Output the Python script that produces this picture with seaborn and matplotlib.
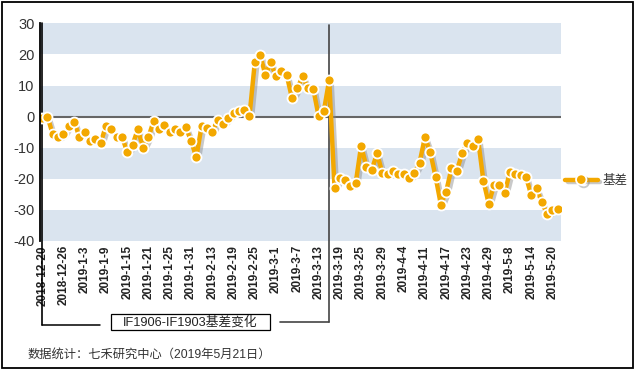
import matplotlib
matplotlib.use("Agg")
import matplotlib.pyplot as plt
import matplotlib.patheffects as pe
from matplotlib.lines import Line2D
from matplotlib.patches import Rectangle
import numpy as np
import pandas as pd
import seaborn as sns

# ---------------- data ----------------
dates = [
    "2018-12-20", "2018-12-21", "2018-12-24", "2018-12-25", "2018-12-26", "2018-12-27", "2018-12-28",
    "2019-1-2", "2019-1-3", "2019-1-4", "2019-1-7", "2019-1-8", "2019-1-9", "2019-1-10", "2019-1-11",
    "2019-1-14", "2019-1-15", "2019-1-16", "2019-1-17", "2019-1-18", "2019-1-21", "2019-1-22",
    "2019-1-23", "2019-1-24", "2019-1-25", "2019-1-28", "2019-1-29", "2019-1-30", "2019-1-31",
    "2019-2-1", "2019-2-11", "2019-2-12", "2019-2-13", "2019-2-14", "2019-2-15", "2019-2-18",
    "2019-2-19", "2019-2-20", "2019-2-21", "2019-2-22", "2019-2-25", "2019-2-26", "2019-2-27",
    "2019-2-28", "2019-3-1", "2019-3-4", "2019-3-5", "2019-3-6", "2019-3-7", "2019-3-8",
    "2019-3-11", "2019-3-12", "2019-3-13", "2019-3-14", "2019-3-15", "2019-3-18", "2019-3-19",
    "2019-3-20", "2019-3-21", "2019-3-22", "2019-3-25", "2019-3-26", "2019-3-27", "2019-3-28",
    "2019-3-29", "2019-4-1", "2019-4-2", "2019-4-3", "2019-4-4", "2019-4-8", "2019-4-9",
    "2019-4-10", "2019-4-11", "2019-4-12", "2019-4-15", "2019-4-16", "2019-4-17", "2019-4-18",
    "2019-4-19", "2019-4-22", "2019-4-23", "2019-4-24", "2019-4-25", "2019-4-26", "2019-4-29",
    "2019-4-30", "2019-5-6", "2019-5-7", "2019-5-8", "2019-5-9", "2019-5-10", "2019-5-13",
    "2019-5-14", "2019-5-15", "2019-5-16", "2019-5-17", "2019-5-20", "2019-5-21",
]
basis = [
    -0.5, 0.0, -5.7, -6.7, -5.7, -2.9, -1.6, -6.4, -5.1, -7.8, -7.3, -8.6, -2.9, -4.1, -6.4,
    -6.4, -11.3, -9.1, -4.1, -10.0, -6.6, -1.3, -4.1, -2.7, -4.8, -4.1, -4.8, -3.4, -7.7,
    -13.1, -3.0, -3.7, -4.8, -1.1, -2.3, -0.5, 1.3, 1.8, 2.2, 0.2, 17.4, 19.8, 13.4,
    17.4, 12.9, 14.7, 13.4, 5.9, 9.1, 12.9, 9.1, 8.9, 0.2, 1.9, 11.8, -22.9, -19.7,
    -20.3, -22.3, -21.2, -9.4, -16.1, -17.1, -11.8, -18.2, -18.4, -17.4, -18.4, -18.4, -19.8,
    -18.2, -14.8, -6.6, -11.4, -19.3, -28.3, -24.1, -16.6, -17.4, -11.8, -8.4, -9.4, -7.3,
    -20.6, -28.0, -22.0, -22.0, -24.6, -17.7, -18.3, -18.9, -19.3, -25.2, -23.1, -27.6,
    -31.4, -30.1, -29.8,
]
tick_labels = [
    "2018-12-20", "2018-12-26", "2019-1-3", "2019-1-9", "2019-1-15", "2019-1-21", "2019-1-25",
    "2019-1-31", "2019-2-13", "2019-2-19", "2019-2-25", "2019-3-1", "2019-3-7", "2019-3-13",
    "2019-3-19", "2019-3-25", "2019-3-29", "2019-4-4", "2019-4-11", "2019-4-17", "2019-4-23",
    "2019-4-29", "2019-5-8", "2019-5-14", "2019-5-20",
]
y_ticks = [30, 20, 10, 0, -10, -20, -30, -40]
contract_switch = "2019-3-15"
series_name = "基差"
annotation = "IF1906-IF1903基差变化"
source = "数据统计：七禾研究中心（2019年5月21日）"

# ---------------- style ----------------
sns.set_theme(style="white")
plt.rcParams["font.family"] = ["Liberation Sans", "Noto Sans CJK SC", "DejaVu Sans"]

W, H = 635, 369
fig = plt.figure(figsize=(W / 100, H / 100), dpi=100)
ax = fig.add_axes([40 / W, 1 - 241 / H, 521 / W, (241 - 23.3) / H])

df = pd.DataFrame({"idx": np.arange(len(dates)), "date": dates, "basis": basis})

band = "#dae4ef"
for lo in (20, 0, -20, -40):
    ax.axhspan(lo, lo + 10, color=band, lw=0, zorder=0)
ax.axhline(0, color="#666666", lw=1.5, zorder=1)

orange = "#F3A800"
shadow = [pe.SimpleLineShadow(offset=(1.8, -1.8), shadow_color="#888888", alpha=0.45), pe.Normal()]
sns.lineplot(data=df, x="idx", y="basis", ax=ax, color=orange, lw=3.2, zorder=3,
             path_effects=shadow, legend=False)
sns.scatterplot(data=df, x="idx", y="basis", ax=ax, color=orange, s=52, edgecolor="white",
                linewidth=1.3, zorder=4, legend=False)

ax.set_xlim(-0.4, 97.6)
ax.set_ylim(-40, 30)
ax.set_yticks(y_ticks)
ax.set_yticklabels([str(v) for v in y_ticks])
tick_pos = [dates.index(t) for t in tick_labels]
ax.set_xticks(tick_pos)
ax.set_xticklabels(tick_labels, rotation=90, fontsize=8.5, fontweight="bold", color="#222222")
ax.tick_params(axis="both", length=0)
ax.tick_params(axis="x", pad=3)
ax.tick_params(axis="y", labelsize=10.5, labelcolor="#333333", pad=4)
ax.set_xlabel("")
ax.set_ylabel("")
for s in ["top", "right", "bottom"]:
    ax.spines[s].set_visible(False)
ax.spines["left"].set_color("black")
ax.spines["left"].set_linewidth(1.3)
ax.spines["left"].set_zorder(5)

# ---------------- bracket annotation ----------------
ax_h = 241 - 23.3
ax.axvline(0, ymin=(241 - 325) / ax_h, ymax=1, color="black", lw=1.2, clip_on=False, zorder=2)
sw = dates.index(contract_switch)
ax.axvline(sw, ymin=(241 - 322) / ax_h, ymax=(241 - 25) / ax_h, color="#444444", lw=1.2,
           clip_on=False, zorder=2)

inv = fig.transFigure.inverted()
x_left = inv.transform(ax.transData.transform((0, 0)))[0]
x_sw = inv.transform(ax.transData.transform((sw, 0)))[0]
fig.add_artist(Line2D([x_left, 100 / W], [1 - 325 / H] * 2, color="black", lw=1.1))
fig.add_artist(Line2D([280 / W, x_sw], [1 - 322 / H] * 2, color="#444444", lw=1.2))
fig.add_artist(Rectangle((111 / W, 1 - 330 / H), 159 / W, 16 / H, facecolor="white",
                         edgecolor="black", lw=0.9, transform=fig.transFigure))
fig.text(190.5 / W, 1 - 322 / H, annotation, ha="center", va="center", fontsize=9.2,
         color="#222222")

# ---------------- legend ----------------
handle = Line2D([], [], color=orange, lw=3.2, marker="o", markersize=7.5,
                markeredgecolor="white", markeredgewidth=1.3, path_effects=shadow)
leg = fig.legend(handles=[handle], labels=[series_name], loc="center left",
                 bbox_to_anchor=(565 / W, 1 - 181 / H), frameon=False, fontsize=9,
                 handlelength=2.6, handletextpad=0.4, borderpad=0, borderaxespad=0)
for t in leg.get_texts():
    t.set_color("#333333")

# ---------------- footer & border ----------------
fig.text(28 / W, 1 - 355 / H, source, fontsize=8.8, color="#333333", va="center", ha="left")
fig.add_artist(Rectangle((1.5 / W, 1.5 / H), 631.5 / W, 365.5 / H, fill=False,
                         edgecolor="black", lw=1.3, transform=fig.transFigure))

fig.savefig("out.png", dpi=100)
